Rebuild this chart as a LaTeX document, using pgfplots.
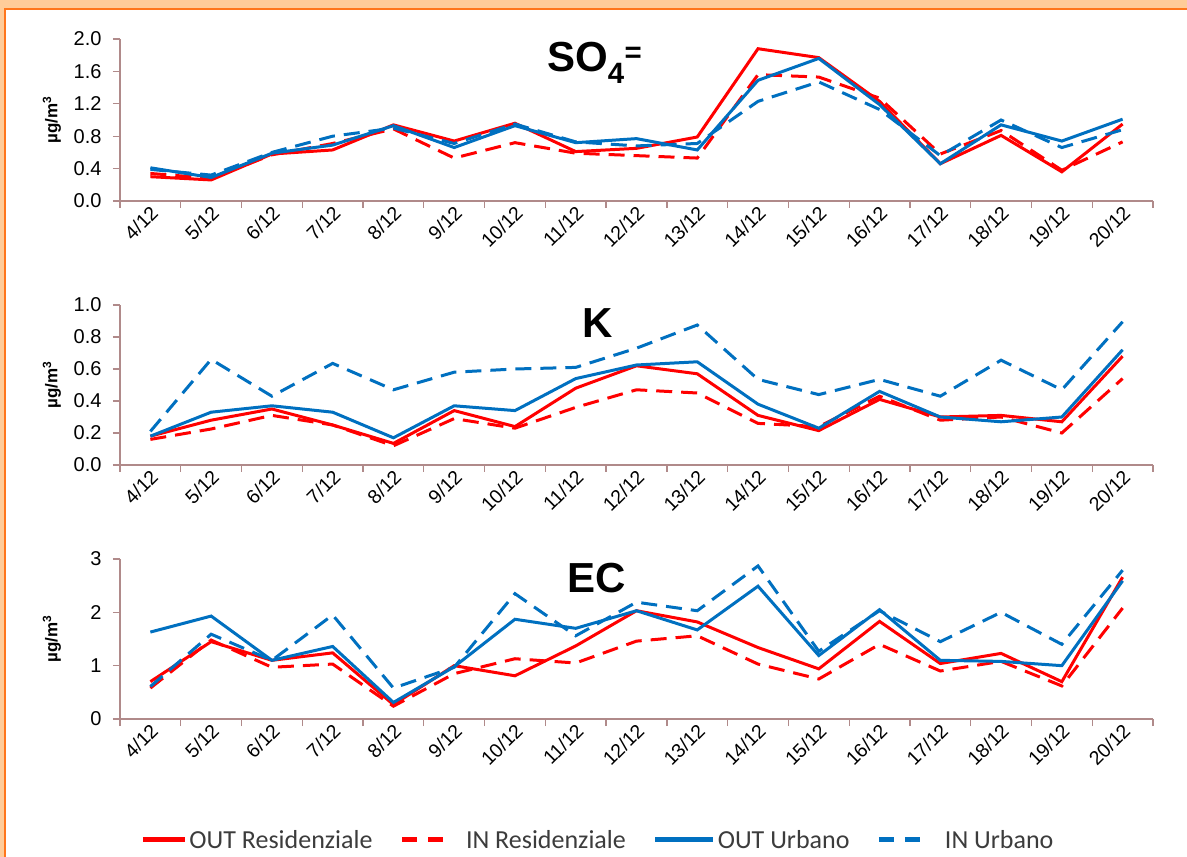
\documentclass[border=0pt]{standalone}
\usepackage{fontspec}
\setmainfont{Liberation Sans}
\newfontfamily\legfont{Carlito}
\usepackage{pgfplots}
\pgfplotsset{compat=1.18}
\definecolor{myred}{RGB}{255,0,0}
\definecolor{myblue}{RGB}{0,112,192}
\definecolor{axcol}{RGB}{176,138,138}
\definecolor{peach}{RGB}{255,204,153}
\definecolor{frameor}{RGB}{255,118,28}
\definecolor{legtext}{RGB}{60,60,60}

\pgfplotstableread{
x outr inr outu inu
0 0.30 0.34 0.41 0.39
1 0.26 0.28 0.29 0.32
2 0.58 0.57 0.59 0.60
3 0.63 0.71 0.69 0.80
4 0.94 0.89 0.93 0.90
5 0.74 0.53 0.66 0.71
6 0.96 0.72 0.93 0.95
7 0.61 0.59 0.72 0.73
8 0.65 0.56 0.77 0.68
9 0.79 0.53 0.63 0.71
10 1.88 1.56 1.49 1.23
11 1.77 1.53 1.76 1.47
12 1.23 1.27 1.19 1.13
13 0.46 0.58 0.46 0.56
14 0.81 0.87 0.94 1.00
15 0.36 0.38 0.74 0.66
16 0.95 0.73 1.01 0.88
}\so

\pgfplotstableread{
x outr inr outu inu
0 0.18 0.16 0.18 0.21
1 0.28 0.225 0.33 0.66
2 0.35 0.31 0.37 0.43
3 0.25 0.25 0.33 0.635
4 0.135 0.12 0.17 0.47
5 0.34 0.29 0.37 0.58
6 0.24 0.23 0.34 0.60
7 0.48 0.36 0.54 0.61
8 0.62 0.47 0.625 0.73
9 0.57 0.45 0.645 0.875
10 0.31 0.26 0.38 0.535
11 0.215 0.24 0.23 0.44
12 0.41 0.43 0.46 0.535
13 0.30 0.28 0.30 0.43
14 0.31 0.30 0.27 0.655
15 0.27 0.20 0.30 0.47
16 0.68 0.54 0.72 0.895
}\kk

\pgfplotstableread{
x outr inr outu inu
0 0.70 0.58 1.63 0.61
1 1.45 1.48 1.93 1.59
2 1.10 0.97 1.10 1.10
3 1.24 1.03 1.36 1.95
4 0.27 0.24 0.31 0.58
5 1.00 0.85 0.98 0.97
6 0.81 1.13 1.87 2.35
7 1.37 1.05 1.70 1.56
8 2.03 1.46 2.03 2.19
9 1.82 1.56 1.67 2.03
10 1.34 1.03 2.49 2.87
11 0.94 0.75 1.19 1.27
12 1.83 1.40 2.05 2.03
13 1.04 0.90 1.10 1.45
14 1.23 1.08 1.08 2.00
15 0.70 0.62 1.00 1.40
16 2.66 2.08 2.59 2.79
}\ec

\pgfplotsset{
  panel/.style={
    scale only axis, width=1033pt,
    xmin=-0.5, xmax=16.5, ymin=0,
    axis lines*=left,
    axis line style={axcol, line width=1.3pt},
    xtick={0,...,16},
    xticklabels={4/12,5/12,6/12,7/12,8/12,9/12,10/12,11/12,12/12,13/12,14/12,15/12,16/12,17/12,18/12,19/12,20/12},
    major x tick style={draw=none},
    minor xtick={-0.5,0.5,...,16.5},
    minor x tick style={axcol, line width=1.3pt},
    minor tick length=7pt,
    major tick length=7pt,
    tick align=outside,
    y tick style={axcol, line width=1.3pt},
    /pgf/number format/assume math mode=true,
    x tick label style={rotate=45, anchor=east, font=\fontsize{19.5}{20}\selectfont, inner sep=2pt, xshift=4pt, yshift=-4pt},
    y tick label style={font=\fontsize{20}{20}\selectfont, xshift=-8pt},
    ylabel={\textbf{µg/m\textsuperscript{3}}},
    every axis y label/.style={at={(axis description cs:-0.066,0.5)}, rotate=90, anchor=center, font=\fontsize{17}{17}\selectfont},
    clip=false,
  },
  outr/.style={myred, line width=3pt, solid,
    legend image code/.code={\draw[##1, line width=5pt] (0pt,0pt)--(42pt,0pt);}},
  inr/.style={myred, line width=3pt, dash pattern=on 16pt off 9pt,
    legend image code/.code={\draw[##1, line width=5pt, dash pattern=on 15pt off 11pt] (0pt,0pt)--(41pt,0pt); \path[draw=none,fill=none] (0pt,0pt)--(62pt,0pt);}},
  outu/.style={myblue, line width=3pt, solid,
    legend image code/.code={\draw[##1, line width=5pt] (0pt,0pt)--(58pt,0pt);}},
  inu/.style={myblue, line width=3pt, dash pattern=on 16pt off 9pt,
    legend image code/.code={\draw[##1, line width=5pt, dash pattern=on 15pt off 11pt] (0pt,0pt)--(41pt,0pt); \path[draw=none,fill=none] (0pt,0pt)--(64pt,0pt);}},
}

\begin{document}
\begin{tikzpicture}
\useasboundingbox (0pt,0pt) rectangle (1187pt,857pt);
\fill[white] (0pt,0pt) rectangle (1187pt,857pt);
\fill[peach] (0pt,849pt) rectangle (1187pt,857pt);
\fill[peach] (0pt,0pt) rectangle (3.5pt,857pt);
\fill[frameor] (3.5pt,847pt) rectangle (1187pt,849pt);
\fill[frameor] (3.5pt,0pt) rectangle (6pt,849pt);

% SO4
\begin{axis}[panel, at={(120pt,656pt)}, anchor=south west, height=162pt,
  ymax=2, ytick={0,0.4,0.8,1.2,1.6,2.0},
  yticklabel style={/pgf/number format/.cd, fixed, fixed zerofill, precision=1}]
\addplot[outr] table[x=x,y=outr]{\so};
\addplot[inr] table[x=x,y=inr]{\so};
\addplot[outu] table[x=x,y=outu]{\so};
\addplot[inu] table[x=x,y=inu]{\so};
\end{axis}

% K
\begin{axis}[panel, at={(120pt,392pt)}, anchor=south west, height=160pt,
  ymax=1, ytick={0,0.2,0.4,0.6,0.8,1.0},
  yticklabel style={/pgf/number format/.cd, fixed, fixed zerofill, precision=1}]
\addplot[outr] table[x=x,y=outr]{\kk};
\addplot[inr] table[x=x,y=inr]{\kk};
\addplot[outu] table[x=x,y=outu]{\kk};
\addplot[inu] table[x=x,y=inu]{\kk};
\end{axis}

% EC
\begin{axis}[panel, at={(120pt,138pt)}, anchor=south west, height=160pt,
  ymax=3, ytick={0,1,2,3},
  legend columns=4,
  legend style={draw=none, fill=none, at={(0.4627,-0.756)}, anchor=center,
    font=\legfont\fontsize{26}{26}\selectfont, text=legtext,
    /tikz/every odd column/.append style={column sep=0pt},
    /tikz/every even column/.append style={column sep=25pt}}]
\addplot[outr] table[x=x,y=outr]{\ec};
\addlegendentry{OUT Residenziale}
\addplot[inr] table[x=x,y=inr]{\ec};
\addlegendentry{IN Residenziale}
\addplot[outu] table[x=x,y=outu]{\ec};
\addlegendentry{OUT Urbano}
\addplot[inu] table[x=x,y=inu]{\ec};
\addlegendentry{IN Urbano}
\end{axis}

\node[anchor=base west, inner sep=0pt, font=\bfseries\fontsize{42}{42}\selectfont] at (547pt,785pt) {SO\textsubscript{4}\textsuperscript{=}};
\node[anchor=base west, inner sep=0pt, font=\bfseries\fontsize{42}{42}\selectfont] at (582pt,519pt) {K};
\node[anchor=base west, inner sep=0pt, font=\bfseries\fontsize{42}{42}\selectfont] at (567pt,264pt) {EC};
\end{tikzpicture}
\end{document}
